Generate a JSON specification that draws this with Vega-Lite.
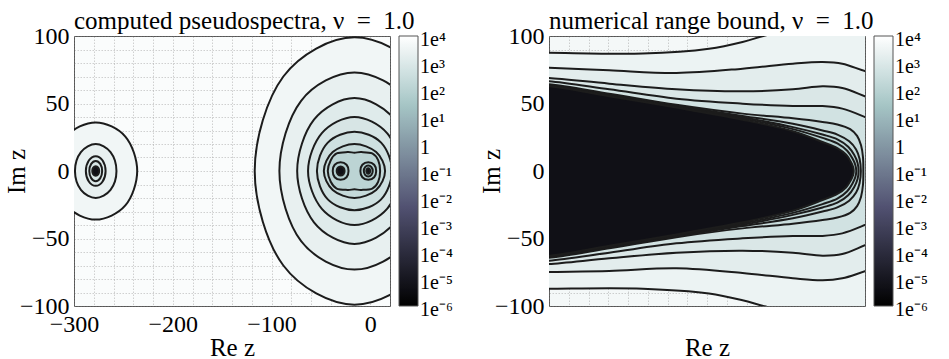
{
  "$schema": "https://vega.github.io/schema/vega-lite/v6.json",
  "background": "white",
  "padding": {"left": 3, "top": 8, "right": 0, "bottom": 0},
  "spacing": 24,
  "datasets": {
    "levels": [
      {"id": "a01", "v": 3981}, {"id": "a02", "v": 2239}, {"id": "a03", "v": 1259}, {"id": "a04", "v": 708},
      {"id": "a05", "v": 398}, {"id": "a06", "v": 224}, {"id": "a07", "v": 126}, {"id": "a08", "v": 71},
      {"id": "a09", "v": 71}, {"id": "a10", "v": 40}, {"id": "a11", "v": 0.000005}, {"id": "a12", "v": 0.000005},
      {"id": "b01", "v": 3981}, {"id": "b02", "v": 2239}, {"id": "b03", "v": 1259}, {"id": "b04", "v": 708},
      {"id": "b05", "v": 0.000005},
      {"id": "c1", "v": 2818}, {"id": "c2", "v": 1585}, {"id": "c3", "v": 891}, {"id": "c4", "v": 501},
      {"id": "c5", "v": 282}, {"id": "c6", "v": 178}, {"id": "c7", "v": 112}, {"id": "c8", "v": 71},
      {"id": "c9", "v": 0.000005}
    ],
    "computed": [
      {"id": "a01", "o": 1, "x": 85, "y": 0}, {"id": "a01", "o": 2, "x": 56, "y": 70}, {"id": "a01", "o": 3, "x": -16, "y": 99}, {"id": "a01", "o": 4, "x": -88, "y": 70},
      {"id": "a01", "o": 5, "x": -117, "y": 0}, {"id": "a01", "o": 6, "x": -88, "y": -70}, {"id": "a01", "o": 7, "x": -16, "y": -99}, {"id": "a01", "o": 8, "x": 56, "y": -70},
      {"id": "a02", "o": 1, "x": 60, "y": 0}, {"id": "a02", "o": 2, "x": 38, "y": 52}, {"id": "a02", "o": 3, "x": -16, "y": 73}, {"id": "a02", "o": 4, "x": -70, "y": 52},
      {"id": "a02", "o": 5, "x": -92, "y": 0}, {"id": "a02", "o": 6, "x": -70, "y": -52}, {"id": "a02", "o": 7, "x": -16, "y": -73}, {"id": "a02", "o": 8, "x": 38, "y": -52},
      {"id": "a03", "o": 1, "x": 42, "y": 0}, {"id": "a03", "o": 2, "x": 25, "y": 38}, {"id": "a03", "o": 3, "x": -16, "y": 54}, {"id": "a03", "o": 4, "x": -57, "y": 38},
      {"id": "a03", "o": 5, "x": -74, "y": 0}, {"id": "a03", "o": 6, "x": -57, "y": -38}, {"id": "a03", "o": 7, "x": -16, "y": -54}, {"id": "a03", "o": 8, "x": 25, "y": -38},
      {"id": "a04", "o": 1, "x": 31, "y": 0}, {"id": "a04", "o": 2, "x": 17, "y": 28}, {"id": "a04", "o": 3, "x": -16, "y": 40}, {"id": "a04", "o": 4, "x": -49, "y": 28},
      {"id": "a04", "o": 5, "x": -63, "y": 0}, {"id": "a04", "o": 6, "x": -49, "y": -28}, {"id": "a04", "o": 7, "x": -16, "y": -40}, {"id": "a04", "o": 8, "x": 17, "y": -28},
      {"id": "a05", "o": 1, "x": 22, "y": 0}, {"id": "a05", "o": 2, "x": 11, "y": 21}, {"id": "a05", "o": 3, "x": -16, "y": 29}, {"id": "a05", "o": 4, "x": -43, "y": 21},
      {"id": "a05", "o": 5, "x": -54, "y": 0}, {"id": "a05", "o": 6, "x": -43, "y": -21}, {"id": "a05", "o": 7, "x": -16, "y": -29}, {"id": "a05", "o": 8, "x": 11, "y": -21},
      {"id": "a06", "o": 1, "x": 15, "y": 0}, {"id": "a06", "o": 2, "x": 6, "y": 14}, {"id": "a06", "o": 3, "x": -16, "y": 20}, {"id": "a06", "o": 4, "x": -38, "y": 14},
      {"id": "a06", "o": 5, "x": -47, "y": 0}, {"id": "a06", "o": 6, "x": -38, "y": -14}, {"id": "a06", "o": 7, "x": -16, "y": -20}, {"id": "a06", "o": 8, "x": 6, "y": -14},
      {"id": "a07", "o": 1, "x": 10, "y": 0}, {"id": "a07", "o": 2, "x": 8, "y": 8}, {"id": "a07", "o": 3, "x": 2, "y": 13}, {"id": "a07", "o": 4, "x": -9, "y": 14},
      {"id": "a07", "o": 5, "x": -16, "y": 13.6}, {"id": "a07", "o": 6, "x": -23, "y": 14}, {"id": "a07", "o": 7, "x": -34, "y": 13}, {"id": "a07", "o": 8, "x": -40, "y": 8},
      {"id": "a07", "o": 9, "x": -43, "y": 0}, {"id": "a07", "o": 10, "x": -40, "y": -8}, {"id": "a07", "o": 11, "x": -34, "y": -13}, {"id": "a07", "o": 12, "x": -23, "y": -14},
      {"id": "a07", "o": 13, "x": -16, "y": -13.6}, {"id": "a07", "o": 14, "x": -9, "y": -14}, {"id": "a07", "o": 15, "x": 2, "y": -13}, {"id": "a07", "o": 16, "x": 8, "y": -8},
      {"id": "a08", "o": 1, "x": -22, "y": 0}, {"id": "a08", "o": 2, "x": -24, "y": 4.6}, {"id": "a08", "o": 3, "x": -30, "y": 6.5}, {"id": "a08", "o": 4, "x": -36, "y": 4.6},
      {"id": "a08", "o": 5, "x": -38, "y": 0}, {"id": "a08", "o": 6, "x": -36, "y": -4.6}, {"id": "a08", "o": 7, "x": -30, "y": -6.5}, {"id": "a08", "o": 8, "x": -24, "y": -4.6},
      {"id": "a09", "o": 1, "x": 6, "y": 0}, {"id": "a09", "o": 2, "x": 4, "y": 4.6}, {"id": "a09", "o": 3, "x": -2, "y": 6.5}, {"id": "a09", "o": 4, "x": -8, "y": 4.6},
      {"id": "a09", "o": 5, "x": -10, "y": 0}, {"id": "a09", "o": 6, "x": -8, "y": -4.6}, {"id": "a09", "o": 7, "x": -2, "y": -6.5}, {"id": "a09", "o": 8, "x": 4, "y": -4.6},
      {"id": "a10", "o": 1, "x": 2.5, "y": 0}, {"id": "a10", "o": 2, "x": 1.2, "y": 2.8}, {"id": "a10", "o": 3, "x": -2, "y": 4}, {"id": "a10", "o": 4, "x": -5.2, "y": 2.8},
      {"id": "a10", "o": 5, "x": -6.5, "y": 0}, {"id": "a10", "o": 6, "x": -5.2, "y": -2.8}, {"id": "a10", "o": 7, "x": -2, "y": -4}, {"id": "a10", "o": 8, "x": 1.2, "y": -2.8},
      {"id": "a11", "o": 1, "x": -26, "y": 0}, {"id": "a11", "o": 2, "x": -27.2, "y": 2.4}, {"id": "a11", "o": 3, "x": -30, "y": 3.4}, {"id": "a11", "o": 4, "x": -32.8, "y": 2.4},
      {"id": "a11", "o": 5, "x": -34, "y": 0}, {"id": "a11", "o": 6, "x": -32.8, "y": -2.4}, {"id": "a11", "o": 7, "x": -30, "y": -3.4}, {"id": "a11", "o": 8, "x": -27.2, "y": -2.4},
      {"id": "a12", "o": 1, "x": 0, "y": 0}, {"id": "a12", "o": 2, "x": -0.6, "y": 1.4}, {"id": "a12", "o": 3, "x": -2, "y": 2}, {"id": "a12", "o": 4, "x": -3.4, "y": 1.4},
      {"id": "a12", "o": 5, "x": -4, "y": 0}, {"id": "a12", "o": 6, "x": -3.4, "y": -1.4}, {"id": "a12", "o": 7, "x": -2, "y": -2}, {"id": "a12", "o": 8, "x": -0.6, "y": -1.4},
      {"id": "b01", "o": 1, "x": -236, "y": 0}, {"id": "b01", "o": 2, "x": -248, "y": 25.5}, {"id": "b01", "o": 3, "x": -278, "y": 36}, {"id": "b01", "o": 4, "x": -308, "y": 25.5},
      {"id": "b01", "o": 5, "x": -320, "y": 0}, {"id": "b01", "o": 6, "x": -308, "y": -25.5}, {"id": "b01", "o": 7, "x": -278, "y": -36}, {"id": "b01", "o": 8, "x": -248, "y": -25.5},
      {"id": "b02", "o": 1, "x": -257, "y": 0}, {"id": "b02", "o": 2, "x": -263, "y": 14}, {"id": "b02", "o": 3, "x": -278, "y": 20}, {"id": "b02", "o": 4, "x": -293, "y": 14},
      {"id": "b02", "o": 5, "x": -299, "y": 0}, {"id": "b02", "o": 6, "x": -293, "y": -14}, {"id": "b02", "o": 7, "x": -278, "y": -20}, {"id": "b02", "o": 8, "x": -263, "y": -14},
      {"id": "b03", "o": 1, "x": -268, "y": 0}, {"id": "b03", "o": 2, "x": -271, "y": 7.8}, {"id": "b03", "o": 3, "x": -278, "y": 11}, {"id": "b03", "o": 4, "x": -285, "y": 7.8},
      {"id": "b03", "o": 5, "x": -288, "y": 0}, {"id": "b03", "o": 6, "x": -285, "y": -7.8}, {"id": "b03", "o": 7, "x": -278, "y": -11}, {"id": "b03", "o": 8, "x": -271, "y": -7.8},
      {"id": "b04", "o": 1, "x": -271.5, "y": 0}, {"id": "b04", "o": 2, "x": -273.4, "y": 5.3}, {"id": "b04", "o": 3, "x": -278, "y": 7.5}, {"id": "b04", "o": 4, "x": -282.6, "y": 5.3},
      {"id": "b04", "o": 5, "x": -284.5, "y": 0}, {"id": "b04", "o": 6, "x": -282.6, "y": -5.3}, {"id": "b04", "o": 7, "x": -278, "y": -7.5}, {"id": "b04", "o": 8, "x": -273.4, "y": -5.3},
      {"id": "b05", "o": 1, "x": -274.5, "y": 0}, {"id": "b05", "o": 2, "x": -275.5, "y": 2.5}, {"id": "b05", "o": 3, "x": -278, "y": 3.5}, {"id": "b05", "o": 4, "x": -280.5, "y": 2.5},
      {"id": "b05", "o": 5, "x": -281.5, "y": 0}, {"id": "b05", "o": 6, "x": -280.5, "y": -2.5}, {"id": "b05", "o": 7, "x": -278, "y": -3.5}, {"id": "b05", "o": 8, "x": -275.5, "y": -2.5}
    ],
    "bound": [
      {"id": "c1", "o": 1, "x": -320, "y": 87.6}, {"id": "c1", "o": 2, "x": -300, "y": 87.6}, {"id": "c1", "o": 3, "x": -205, "y": 87}, {"id": "c1", "o": 4, "x": -138, "y": 90.6},
      {"id": "c1", "o": 5, "x": -104, "y": 95.6}, {"id": "c1", "o": 6, "x": -83, "y": 100}, {"id": "c1", "o": 7, "x": -60, "y": 104}, {"id": "c1", "o": 8, "x": 0, "y": 112},
      {"id": "c1", "o": 9, "x": 40, "y": 116}, {"id": "c1", "o": 10, "x": 80, "y": 118}, {"id": "c1", "o": 11, "x": 80, "y": -118}, {"id": "c1", "o": 12, "x": 40, "y": -116},
      {"id": "c1", "o": 13, "x": 0, "y": -112}, {"id": "c1", "o": 14, "x": -60, "y": -104}, {"id": "c1", "o": 15, "x": -83, "y": -100}, {"id": "c1", "o": 16, "x": -104, "y": -95.8},
      {"id": "c1", "o": 17, "x": -138, "y": -90.8}, {"id": "c1", "o": 18, "x": -205, "y": -87.2}, {"id": "c1", "o": 19, "x": -300, "y": -87.2}, {"id": "c1", "o": 20, "x": -320, "y": -87.2},
      {"id": "c2", "o": 1, "x": -320, "y": 77}, {"id": "c2", "o": 2, "x": -300, "y": 76.5}, {"id": "c2", "o": 3, "x": -239, "y": 74.6}, {"id": "c2", "o": 4, "x": -171, "y": 72.6},
      {"id": "c2", "o": 5, "x": -104, "y": 75.8}, {"id": "c2", "o": 6, "x": -53, "y": 79.5}, {"id": "c2", "o": 7, "x": -23, "y": 80.7}, {"id": "c2", "o": 8, "x": -3, "y": 79.5},
      {"id": "c2", "o": 9, "x": 20, "y": 74}, {"id": "c2", "o": 10, "x": 50, "y": 68}, {"id": "c2", "o": 11, "x": 80, "y": 64}, {"id": "c2", "o": 12, "x": 80, "y": -64},
      {"id": "c2", "o": 13, "x": 50, "y": -68}, {"id": "c2", "o": 14, "x": 20, "y": -74.3}, {"id": "c2", "o": 15, "x": -3, "y": -79.5}, {"id": "c2", "o": 16, "x": -23, "y": -81},
      {"id": "c2", "o": 17, "x": -53, "y": -79.5}, {"id": "c2", "o": 18, "x": -104, "y": -75.5}, {"id": "c2", "o": 19, "x": -171, "y": -72}, {"id": "c2", "o": 20, "x": -239, "y": -74},
      {"id": "c2", "o": 21, "x": -300, "y": -74.8}, {"id": "c2", "o": 22, "x": -320, "y": -75.2},
      {"id": "c3", "o": 1, "x": -320, "y": 69.5}, {"id": "c3", "o": 2, "x": -300, "y": 68.9}, {"id": "c3", "o": 3, "x": -239, "y": 64.7}, {"id": "c3", "o": 4, "x": -171, "y": 60.5},
      {"id": "c3", "o": 5, "x": -104, "y": 59}, {"id": "c3", "o": 6, "x": -53, "y": 60.5}, {"id": "c3", "o": 7, "x": -23, "y": 62.7}, {"id": "c3", "o": 8, "x": -3, "y": 61.5},
      {"id": "c3", "o": 9, "x": 20, "y": 55.3}, {"id": "c3", "o": 10, "x": 50, "y": 46}, {"id": "c3", "o": 11, "x": 80, "y": 40}, {"id": "c3", "o": 12, "x": 80, "y": -40},
      {"id": "c3", "o": 13, "x": 50, "y": -46}, {"id": "c3", "o": 14, "x": 20, "y": -55}, {"id": "c3", "o": 15, "x": -3, "y": -61.5}, {"id": "c3", "o": 16, "x": -23, "y": -62.7},
      {"id": "c3", "o": 17, "x": -53, "y": -60.5}, {"id": "c3", "o": 18, "x": -104, "y": -59}, {"id": "c3", "o": 19, "x": -171, "y": -60.5}, {"id": "c3", "o": 20, "x": -239, "y": -64.7},
      {"id": "c3", "o": 21, "x": -300, "y": -68.9}, {"id": "c3", "o": 22, "x": -320, "y": -69.5},
      {"id": "c4", "o": 1, "x": -320, "y": 66.8}, {"id": "c4", "o": 2, "x": -300, "y": 66.4}, {"id": "c4", "o": 3, "x": -239, "y": 60.5}, {"id": "c4", "o": 4, "x": -171, "y": 53.6},
      {"id": "c4", "o": 5, "x": -104, "y": 49.9}, {"id": "c4", "o": 6, "x": -53, "y": 48.1}, {"id": "c4", "o": 7, "x": -23, "y": 48.1}, {"id": "c4", "o": 8, "x": -3, "y": 46.2},
      {"id": "c4", "o": 9, "x": 20, "y": 40}, {"id": "c4", "o": 10, "x": 50, "y": 30}, {"id": "c4", "o": 11, "x": 80, "y": 25}, {"id": "c4", "o": 12, "x": 80, "y": -25},
      {"id": "c4", "o": 13, "x": 50, "y": -30}, {"id": "c4", "o": 14, "x": 20, "y": -40}, {"id": "c4", "o": 15, "x": -3, "y": -46.2}, {"id": "c4", "o": 16, "x": -23, "y": -48.1},
      {"id": "c4", "o": 17, "x": -53, "y": -48.1}, {"id": "c4", "o": 18, "x": -104, "y": -49.9}, {"id": "c4", "o": 19, "x": -171, "y": -53.6}, {"id": "c4", "o": 20, "x": -239, "y": -60.5},
      {"id": "c4", "o": 21, "x": -300, "y": -66.4}, {"id": "c4", "o": 22, "x": -320, "y": -66.8},
      {"id": "c5", "o": 1, "x": -320, "y": 64.6}, {"id": "c5", "o": 2, "x": -300, "y": 64.3}, {"id": "c5", "o": 3, "x": -239, "y": 57.3}, {"id": "c5", "o": 4, "x": -171, "y": 49},
      {"id": "c5", "o": 5, "x": -104, "y": 42.5}, {"id": "c5", "o": 6, "x": -53, "y": 39}, {"id": "c5", "o": 7, "x": -23, "y": 36.3}, {"id": "c5", "o": 8, "x": -8, "y": 34.5},
      {"id": "c5", "o": 9, "x": 5, "y": 31}, {"id": "c5", "o": 10, "x": 12, "y": 26}, {"id": "c5", "o": 11, "x": 16, "y": 19}, {"id": "c5", "o": 12, "x": 18, "y": 10},
      {"id": "c5", "o": 13, "x": 18.3, "y": 0}, {"id": "c5", "o": 14, "x": 18, "y": -10}, {"id": "c5", "o": 15, "x": 16, "y": -19}, {"id": "c5", "o": 16, "x": 12, "y": -26},
      {"id": "c5", "o": 17, "x": 5, "y": -31}, {"id": "c5", "o": 18, "x": -8, "y": -34.5}, {"id": "c5", "o": 19, "x": -23, "y": -36.3}, {"id": "c5", "o": 20, "x": -53, "y": -39},
      {"id": "c5", "o": 21, "x": -104, "y": -42.5}, {"id": "c5", "o": 22, "x": -171, "y": -49}, {"id": "c5", "o": 23, "x": -239, "y": -57.3}, {"id": "c5", "o": 24, "x": -300, "y": -64.3},
      {"id": "c5", "o": 25, "x": -320, "y": -64.6},
      {"id": "c6", "o": 1, "x": -320, "y": 63.8}, {"id": "c6", "o": 2, "x": -300, "y": 63.6}, {"id": "c6", "o": 3, "x": -239, "y": 56.7}, {"id": "c6", "o": 4, "x": -171, "y": 48.4},
      {"id": "c6", "o": 5, "x": -104, "y": 40.8}, {"id": "c6", "o": 6, "x": -53, "y": 35}, {"id": "c6", "o": 7, "x": -23, "y": 30}, {"id": "c6", "o": 8, "x": -8, "y": 27},
      {"id": "c6", "o": 9, "x": 4, "y": 22}, {"id": "c6", "o": 10, "x": 11, "y": 16}, {"id": "c6", "o": 11, "x": 14.5, "y": 9}, {"id": "c6", "o": 12, "x": 15.8, "y": 0},
      {"id": "c6", "o": 13, "x": 14.5, "y": -9}, {"id": "c6", "o": 14, "x": 11, "y": -16}, {"id": "c6", "o": 15, "x": 4, "y": -22}, {"id": "c6", "o": 16, "x": -8, "y": -27},
      {"id": "c6", "o": 17, "x": -23, "y": -30}, {"id": "c6", "o": 18, "x": -53, "y": -35}, {"id": "c6", "o": 19, "x": -104, "y": -40.8}, {"id": "c6", "o": 20, "x": -171, "y": -48.4},
      {"id": "c6", "o": 21, "x": -239, "y": -56.7}, {"id": "c6", "o": 22, "x": -300, "y": -63.6}, {"id": "c6", "o": 23, "x": -320, "y": -63.8},
      {"id": "c7", "o": 1, "x": -320, "y": 63.4}, {"id": "c7", "o": 2, "x": -300, "y": 63.2}, {"id": "c7", "o": 3, "x": -239, "y": 56.2}, {"id": "c7", "o": 4, "x": -171, "y": 47.9},
      {"id": "c7", "o": 5, "x": -104, "y": 39.8}, {"id": "c7", "o": 6, "x": -53, "y": 32.5}, {"id": "c7", "o": 7, "x": -23, "y": 27}, {"id": "c7", "o": 8, "x": -8, "y": 23.5},
      {"id": "c7", "o": 9, "x": 3, "y": 18}, {"id": "c7", "o": 10, "x": 9, "y": 12}, {"id": "c7", "o": 11, "x": 12.5, "y": 6}, {"id": "c7", "o": 12, "x": 13.5, "y": 0},
      {"id": "c7", "o": 13, "x": 12.5, "y": -6}, {"id": "c7", "o": 14, "x": 9, "y": -12}, {"id": "c7", "o": 15, "x": 3, "y": -18}, {"id": "c7", "o": 16, "x": -8, "y": -23.5},
      {"id": "c7", "o": 17, "x": -23, "y": -27}, {"id": "c7", "o": 18, "x": -53, "y": -32.5}, {"id": "c7", "o": 19, "x": -104, "y": -39.8}, {"id": "c7", "o": 20, "x": -171, "y": -47.9},
      {"id": "c7", "o": 21, "x": -239, "y": -56.2}, {"id": "c7", "o": 22, "x": -300, "y": -63.2}, {"id": "c7", "o": 23, "x": -320, "y": -63.4},
      {"id": "c8", "o": 1, "x": -320, "y": 63.1}, {"id": "c8", "o": 2, "x": -300, "y": 62.95}, {"id": "c8", "o": 3, "x": -239, "y": 55.8}, {"id": "c8", "o": 4, "x": -171, "y": 47.4},
      {"id": "c8", "o": 5, "x": -104, "y": 38.9}, {"id": "c8", "o": 6, "x": -53, "y": 31}, {"id": "c8", "o": 7, "x": -23, "y": 24.5}, {"id": "c8", "o": 8, "x": -8, "y": 20.5},
      {"id": "c8", "o": 9, "x": 2, "y": 15}, {"id": "c8", "o": 10, "x": 7.5, "y": 9}, {"id": "c8", "o": 11, "x": 10.2, "y": 4.5}, {"id": "c8", "o": 12, "x": 11.2, "y": 0},
      {"id": "c8", "o": 13, "x": 10.2, "y": -4.5}, {"id": "c8", "o": 14, "x": 7.5, "y": -9}, {"id": "c8", "o": 15, "x": 2, "y": -15}, {"id": "c8", "o": 16, "x": -8, "y": -20.5},
      {"id": "c8", "o": 17, "x": -23, "y": -24.5}, {"id": "c8", "o": 18, "x": -53, "y": -31}, {"id": "c8", "o": 19, "x": -104, "y": -38.9}, {"id": "c8", "o": 20, "x": -171, "y": -47.4},
      {"id": "c8", "o": 21, "x": -239, "y": -55.8}, {"id": "c8", "o": 22, "x": -300, "y": -62.95}, {"id": "c8", "o": 23, "x": -320, "y": -63.1},
      {"id": "c9", "o": 1, "x": -320, "y": 62.9}, {"id": "c9", "o": 2, "x": -300, "y": 62.7}, {"id": "c9", "o": 3, "x": -239, "y": 55.4}, {"id": "c9", "o": 4, "x": -171, "y": 47},
      {"id": "c9", "o": 5, "x": -104, "y": 38}, {"id": "c9", "o": 6, "x": -53, "y": 29.5}, {"id": "c9", "o": 7, "x": -23, "y": 21.5}, {"id": "c9", "o": 8, "x": -8, "y": 17},
      {"id": "c9", "o": 9, "x": 1, "y": 12}, {"id": "c9", "o": 10, "x": 5.5, "y": 7}, {"id": "c9", "o": 11, "x": 8, "y": 3}, {"id": "c9", "o": 12, "x": 8.6, "y": 0},
      {"id": "c9", "o": 13, "x": 8, "y": -3}, {"id": "c9", "o": 14, "x": 5.5, "y": -7}, {"id": "c9", "o": 15, "x": 1, "y": -12}, {"id": "c9", "o": 16, "x": -8, "y": -17},
      {"id": "c9", "o": 17, "x": -23, "y": -21.5}, {"id": "c9", "o": 18, "x": -53, "y": -29.5}, {"id": "c9", "o": 19, "x": -104, "y": -38}, {"id": "c9", "o": 20, "x": -171, "y": -47},
      {"id": "c9", "o": 21, "x": -239, "y": -55.4}, {"id": "c9", "o": 22, "x": -300, "y": -62.7}, {"id": "c9", "o": 23, "x": -320, "y": -62.9}
    ]
  },
  "config": {
    "font": "Liberation Serif",
    "view": {"stroke": "#555555", "strokeWidth": 1},
    "axis": {
      "labelFont": "Liberation Serif", "titleFont": "Liberation Serif",
      "labelFontSize": 24, "titleFontSize": 25, "titleFontWeight": "normal",
      "labelColor": "#000000", "titleColor": "#000000",
      "domain": false, "ticks": false, "grid": true,
      "gridColor": "#808080", "gridOpacity": 0.45, "gridDash": [1.5, 1.5], "gridWidth": 0.8,
      "zindex": 1, "labelFlush": false, "labelOverlap": false
    },
    "title": {"font": "Liberation Serif", "fontSize": 25, "fontWeight": "normal", "color": "#000000", "anchor": "start", "frame": "group", "baseline": "alphabetic", "offset": -10},
    "legend": {
      "labelFont": "Liberation Serif", "labelFontSize": 20, "labelColor": "#000000",
      "gradientLength": 270, "gradientThickness": 19, "gradientStrokeColor": "#555555", "gradientStrokeWidth": 1,
      "labelOffset": 4, "labelOverlap": false, "padding": 0, "offset": 9
    }
  },
  "resolve": {"scale": {"color": "independent", "x": "independent", "y": "independent"}, "legend": {"color": "independent"}},
  "hconcat": [
    {
      "width": 316, "height": 270,
      "view": {"fill": "#fafcfc"},
      "title": {"text": "computed pseudospectra, ν\u2002=\u20021.0"},
      "data": {"name": "computed"},
      "transform": [{"lookup": "id", "from": {"data": {"name": "levels"}, "key": "id", "fields": ["v"]}}],
      "mark": {"type": "line", "filled": true, "interpolate": "cardinal-closed", "stroke": "#1c1c1c", "strokeWidth": 2, "strokeJoin": "round", "clip": true},
      "encoding": {
        "x": {"field": "x", "type": "quantitative", "scale": {"domain": [-300, 20], "nice": false, "zero": false},
          "axis": {"values": [-300, -280, -260, -240, -220, -200, -180, -160, -140, -120, -100, -80, -60, -40, -20, 0, 20],
            "labelExpr": "datum.value % 100 === 0 ? datum.label : ''", "labelPadding": 6,
            "title": "Re z", "titleY": 49, "titleBaseline": "alphabetic"}},
        "y": {"field": "y", "type": "quantitative", "scale": {"domain": [-100, 100], "nice": false, "zero": false},
          "axis": {"values": [-100, -90, -80, -70, -60, -50, -40, -30, -20, -10, 0, 10, 20, 30, 40, 50, 60, 70, 80, 90, 100],
            "labelExpr": "datum.value % 50 === 0 ? datum.label : ''", "labelPadding": 5,
            "title": "Im z", "titleX": -58, "titleY": 135, "titleAngle": -90, "titleAlign": "center", "titleBaseline": "middle"}},
        "color": {"field": "v", "type": "quantitative",
          "scale": {"type": "log", "domain": [0.000001, 0.004477, 28.86, 10000], "range": ["#000000", "#515171", "#a6c6c6", "#ffffff"], "interpolate": "rgb"},
          "legend": {"title": null, "orient": "right", "direction": "vertical",
            "values": [10000, 1000, 100, 10, 1, 0.1, 0.01, 0.001, 0.0001, 0.00001, 0.000001],
            "labelExpr": "['1e⁻⁶','1e⁻⁵','1e⁻⁴','1e⁻³','1e⁻²','1e⁻¹','1','1e¹','1e²','1e³','1e⁴'][round(log(datum.value)/LN10)+6]",
            "encode": {"labels": {"update": {"baseline": {"value": "middle"}, "dy": {"value": 4}}}}}},
        "detail": {"field": "id"},
        "order": {"field": "o", "type": "quantitative"}
      }
    },
    {
      "width": 316, "height": 270,
      "view": {"fill": "#f4f8f8"},
      "title": {"text": "numerical range bound, ν\u2002=\u20021.0"},
      "data": {"name": "bound"},
      "transform": [{"lookup": "id", "from": {"data": {"name": "levels"}, "key": "id", "fields": ["v"]}}],
      "mark": {"type": "line", "filled": true, "interpolate": "catmull-rom", "stroke": "#1c1c1c", "strokeWidth": 2, "strokeJoin": "round", "clip": true},
      "encoding": {
        "x": {"field": "x", "type": "quantitative", "scale": {"domain": [-300, 20], "nice": false, "zero": false},
          "axis": {"values": [-300, -280, -260, -240, -220, -200, -180, -160, -140, -120, -100, -80, -60, -40, -20, 0, 20],
            "labels": false, "title": "Re z", "titleY": 49, "titleBaseline": "alphabetic"}},
        "y": {"field": "y", "type": "quantitative", "scale": {"domain": [-100, 100], "nice": false, "zero": false},
          "axis": {"values": [-100, -90, -80, -70, -60, -50, -40, -30, -20, -10, 0, 10, 20, 30, 40, 50, 60, 70, 80, 90, 100],
            "labelExpr": "datum.value % 50 === 0 ? datum.label : ''", "labelPadding": 5,
            "title": "Im z", "titleX": -58, "titleY": 135, "titleAngle": -90, "titleAlign": "center", "titleBaseline": "middle"}},
        "color": {"field": "v", "type": "quantitative",
          "scale": {"type": "log", "domain": [0.000001, 0.004477, 28.86, 10000], "range": ["#000000", "#515171", "#a6c6c6", "#ffffff"], "interpolate": "rgb"},
          "legend": {"title": null, "orient": "right", "direction": "vertical",
            "values": [10000, 1000, 100, 10, 1, 0.1, 0.01, 0.001, 0.0001, 0.00001, 0.000001],
            "labelExpr": "['1e⁻⁶','1e⁻⁵','1e⁻⁴','1e⁻³','1e⁻²','1e⁻¹','1','1e¹','1e²','1e³','1e⁴'][round(log(datum.value)/LN10)+6]",
            "encode": {"labels": {"update": {"baseline": {"value": "middle"}, "dy": {"value": 4}}}}}},
        "detail": {"field": "id"},
        "order": {"field": "o", "type": "quantitative"}
      }
    }
  ]
}
